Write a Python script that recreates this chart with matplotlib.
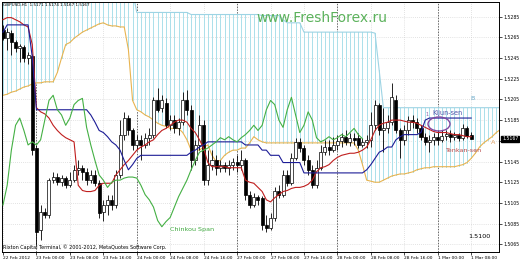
import matplotlib
matplotlib.use("Agg")
import matplotlib.pyplot as plt
import numpy as np
from matplotlib.patches import Ellipse
from matplotlib.transforms import blended_transform_factory

# ---------------- data (prices in 1/10000 units = pips) ----------------
SYMBOL_INFO = "GBPUSD,H1  1.5171 1.5174 1.5167 1.5167"
COPYRIGHT = "Rixton Capital Terminal, \u00a9 2001-2012, MetaQuotes Software Corp."
X_LABELS = ["22 Feb 2012", "23 Feb 00:00", "23 Feb 08:00", "23 Feb 16:00",
            "24 Feb 00:00", "24 Feb 08:00", "24 Feb 16:00", "27 Feb 00:00",
            "27 Feb 08:00", "27 Feb 16:00", "28 Feb 00:00", "28 Feb 08:00",
            "28 Feb 16:00", "1 Mar 00:00", "1 Mar 08:00"]
BARS_PER_LABEL = 8
DAY_START_BARS = [8, 32, 56, 80, 104]
Y_TICKS = [1.5285, 1.5265, 1.5245, 1.5225, 1.5205, 1.5185, 1.5165,
           1.5145, 1.5125, 1.5105, 1.5085, 1.5065]
LAST_PRICE = 1.5167

OPEN_PIPS = [15272, 15264, 15269, 15260, 15255, 15256, 15245, 15247, 15158, 15079,
             15096, 15093, 15127, 15130, 15125, 15129, 15122, 15127, 15137, 15139,
             15135, 15127, 15132, 15124, 15096, 15103, 15108, 15103, 15132, 15171,
             15187, 15175, 15161, 15166, 15161, 15168, 15171, 15204, 15197, 15202,
             15180, 15185, 15177, 15183, 15204, 15195, 15146, 15161, 15180, 15127,
             15142, 15146, 15139, 15142, 15139, 15142, 15145, 15142, 15146, 15113,
             15103, 15111, 15110, 15084, 15081, 15090, 15117, 15113, 15132, 15124,
             15148, 15164, 15158, 15146, 15137, 15122, 15139, 15154, 15159, 15156,
             15161, 15165, 15169, 15164, 15168, 15168, 15161, 15164, 15166, 15180,
             15200, 15175, 15177, 15183, 15204, 15175, 15166, 15175, 15185, 15183,
             15177, 15169, 15164, 15166, 15169, 15166, 15170, 15172, 15169, 15171,
             15168, 15177, 15171]
HIGH_PIPS = [15277, 15274, 15272, 15262, 15259, 15258, 15251, 15249, 15161, 15103,
             15100, 15129, 15135, 15134, 15132, 15131, 15135, 15142, 15146, 15142,
             15139, 15137, 15137, 15127, 15108, 15113, 15113, 15137, 15185, 15193,
             15190, 15177, 15171, 15171, 15173, 15177, 15207, 15216, 15209, 15206,
             15190, 15190, 15187, 15212, 15214, 15200, 15166, 15190, 15185, 15156,
             15156, 15151, 15146, 15145, 15146, 15148, 15151, 15156, 15148, 15117,
             15115, 15113, 15112, 15093, 15095, 15120, 15122, 15137, 15137, 15153,
             15168, 15168, 15161, 15151, 15142, 15146, 15161, 15166, 15166, 15169,
             15171, 15173, 15175, 15173, 15173, 15173, 15168, 15171, 15193, 15204,
             15202, 15197, 15190, 15221, 15209, 15177, 15180, 15189, 15190, 15187,
             15180, 15173, 15171, 15173, 15175, 15175, 15175, 15175, 15174, 15173,
             15181, 15179, 15174]
LOW_PIPS = [15262, 15253, 15248, 15251, 15241, 15241, 15239, 15151, 15064, 15069,
            15090, 15090, 15124, 15122, 15121, 15119, 15120, 15125, 15132, 15127,
            15122, 15124, 15121, 15090, 15088, 15093, 15098, 15100, 15129, 15166,
            15171, 15156, 15156, 15146, 15158, 15161, 15168, 15193, 15193, 15177,
            15175, 15173, 15171, 15180, 15190, 15137, 15142, 15156, 15122, 15122,
            15137, 15132, 15135, 15135, 15132, 15137, 15135, 15137, 15108, 15100,
            15101, 15103, 15079, 15077, 15079, 15088, 15110, 15111, 15121, 15122,
            15146, 15154, 15142, 15132, 15119, 15119, 15137, 15151, 15151, 15154,
            15156, 15159, 15161, 15160, 15161, 15158, 15159, 15158, 15159, 15175,
            15171, 15154, 15173, 15180, 15173, 15148, 15161, 15171, 15177, 15173,
            15166, 15161, 15154, 15161, 15161, 15164, 15166, 15164, 15166, 15165,
            15166, 15168, 15167]
CLOSE_PIPS = [15264, 15270, 15260, 15255, 15257, 15245, 15248, 15156, 15077, 15096,
              15093, 15127, 15130, 15125, 15129, 15122, 15127, 15137, 15139, 15135,
              15127, 15132, 15124, 15095, 15103, 15108, 15103, 15132, 15171, 15187,
              15175, 15161, 15166, 15161, 15168, 15171, 15204, 15195, 15204, 15180,
              15185, 15177, 15183, 15204, 15195, 15146, 15161, 15180, 15127, 15142,
              15146, 15139, 15142, 15139, 15142, 15145, 15142, 15146, 15113, 15103,
              15111, 15108, 15084, 15081, 15090, 15117, 15113, 15132, 15124, 15148,
              15164, 15158, 15146, 15137, 15122, 15139, 15154, 15159, 15156, 15161,
              15165, 15169, 15164, 15168, 15166, 15161, 15164, 15166, 15180, 15200,
              15175, 15177, 15183, 15207, 15175, 15166, 15175, 15185, 15183, 15177,
              15169, 15164, 15166, 15169, 15166, 15170, 15172, 15169, 15171, 15168,
              15177, 15170, 15167]

TENKAN_PIPS = [15282, 15284, 15284, 15282, 15280, 15277, 15275, 15258, 15197, 15193,
               15191, 15187, 15180, 15175, 15171, 15168, 15166, 15164, 15122, 15117,
               15116, 15116, 15117, 15122, 15124, 15124, 15124, 15132, 15137, 15142,
               15146, 15151, 15156, 15159, 15161, 15164, 15166, 15171, 15175, 15177,
               15180, 15183, 15185, 15185, 15183, 15177, 15173, 15166, 15158, 15144,
               15140, 15140, 15140, 15140, 15139, 15139, 15139, 15139, 15127, 15125,
               15124, 15120, 15116, 15108, 15106, 15110, 15113, 15116, 15117, 15119,
               15120, 15120, 15121, 15123, 15127, 15135, 15139, 15140, 15142, 15146,
               15149, 15151, 15152, 15153, 15153, 15154, 15156, 15159, 15166, 15175,
               15180, 15182, 15183, 15185, 15185, 15185, 15184, 15183, 15183, 15182,
               15180, 15178, 15176, 15174, 15173, 15173, 15173, 15172, 15171, 15171,
               15170, 15169, 15169]
KIJUN_PIPS = ([15270] + [15277] * 6 + [15246] + [15195] * 13 +
              [15190, 15183, 15175, 15173, 15169, 15164, 15161, 15156, 15146, 15137, 15142, 15148] +
              [15151] * 12 + [15154, 15156, 15159, 15161] + [15164] * 9 + [15161] * 4 +
              [15156] * 2 + [15151] * 3 + [15144] * 5 + [15134] * 15 +
              [15137, 15142, 15148, 15154, 15156, 15159, 15159, 15166, 15169] +
              [15171] * 4 + [15173, 15185] + [15187] * 11)
CHIKOU_PIPS = [15103, 15122, 15156, 15180, 15187, 15175, 15161, 15164, 15161, 15166,
               15185, 15204, 15209, 15195, 15190, 15180, 15187, 15200, 15204, 15206,
               15178, 15161, 15146, 15132, 15127, 15120, 15125, 15127, 15127, 15129,
               15130, 15130, 15129, 15122, 15113, 15108, 15101, 15088, 15082, 15087,
               15091, 15101, 15111, 15119, 15127, 15137, 15146, 15154, 15156, 15158,
               15161, 15164, 15168, 15166, 15169, 15166, 15164, 15168, 15171, 15175,
               15180, 15175, 15180, 15195, 15204, 15200, 15185, 15178, 15195, 15207,
               15190, 15173, 15180, 15193, 15185, 15168, 15164, 15166, 15169, 15166,
               15168, 15171, 15169, 15173, 15177, 15171, 15167]
SENKOU_A_PIPS = ([15209, 15210, 15212, 15213, 15215, 15217, 15218, 15220, 15221, 15221,
                  15222, 15222, 15222, 15231, 15245, 15258, 15260, 15264, 15267, 15270,
                  15272, 15274, 15276, 15278, 15279, 15277, 15276, 15276, 15275, 15275,
                  15253, 15204, 15195, 15193, 15190, 15188, 15185, 15182, 15180, 15179,
                  15177, 15177, 15177, 15173, 15166, 15156, 15156, 15156, 15159, 15161,
                  15151, 15145, 15146, 15151, 15154, 15156, 15156, 15158, 15158, 15163,
                  15169, 15166, 15164] + [15163] * 22 +
                 [15156, 15142, 15127, 15126, 15125, 15125, 15127, 15129, 15131, 15132,
                  15133, 15133, 15134, 15135, 15137, 15138, 15139, 15139] + [15140] * 6 +
                 [15141, 15142, 15144, 15148, 15153, 15159, 15163, 15166, 15169, 15173, 15176])
SENKOU_B_PIPS = ([15310] * 32 + [15289] * 13 + [15287] * 17 + [15286] * 5 + [15282] +
                 [15279] * 4 + [15270] * 17 + [15269, 15233] + [15197] * 29)

# ---------------- colours ----------------
C_TENKAN = "#c01e1e"
C_KIJUN = "#1c1c96"
C_CHIKOU = "#44b044"
C_SPAN_A = "#e8b450"
C_SPAN_B = "#9ed4e4"
C_CLOUD = "#ade0ea"

def px(v):
    return np.asarray(v, dtype=float) / 1e4

o, h, l, c = px(OPEN_PIPS), px(HIGH_PIPS), px(LOW_PIPS), px(CLOSE_PIPS)
n = len(c)
bars = np.arange(n)
span_a, span_b = px(SENKOU_A_PIPS), px(SENKOU_B_PIPS)
span_x = np.arange(len(span_a))

fig = plt.figure(figsize=(5.2, 2.6), dpi=100)
fig.patch.set_facecolor("white")
ax = fig.add_axes([2 / 520, 8 / 260, 497 / 520, 250 / 260])
ax.set_xlim(-0.24, 118.66)
ax.set_ylim(1.50576, 1.52991)

# grid + period separators
ax.set_axisbelow(True)
ax.grid(True, color="#c8c8c8", ls=(0, (1, 2)), lw=0.5)
for d in DAY_START_BARS:
    ax.axvline(d, color="#303030", ls=(0, (2, 2)), lw=0.5, zorder=1)

# cloud (histogram lines between span A and span B)
ax.vlines(span_x, np.minimum(span_a, span_b), np.maximum(span_a, span_b),
          colors=C_CLOUD, lw=0.72, zorder=1.5, antialiased=False)
ax.plot(span_x, span_a, color=C_SPAN_A, lw=0.8, zorder=2)
ax.plot(span_x, span_b, color=C_SPAN_B, lw=0.8, zorder=2)

# candles
ax.vlines(bars, l, h, colors="black", lw=0.6, zorder=3)
up = c >= o
ax.bar(bars[up], (c - o)[up], bottom=o[up], width=0.72, color="white",
       edgecolor="black", lw=0.5, zorder=3.5)
ax.bar(bars[~up], (c - o)[~up], bottom=o[~up], width=0.72, color="black",
       edgecolor="black", lw=0.5, zorder=3.5)

# indicator lines
ax.plot(bars, px(TENKAN_PIPS), color=C_TENKAN, lw=0.8, zorder=4)
ax.plot(bars, px(KIJUN_PIPS), color=C_KIJUN, lw=0.8, zorder=4)
ax.plot(np.arange(len(CHIKOU_PIPS)), px(CHIKOU_PIPS), color=C_CHIKOU, lw=0.8, zorder=4)

# axes styling
for s in ax.spines.values():
    s.set_color("black")
    s.set_linewidth(0.7)
ax.yaxis.tick_right()
ax.set_yticks(Y_TICKS)
# the tick label at the last price is hidden behind the price marker
ax.set_yticklabels(["" if abs(v - LAST_PRICE) < 0.0005 else f"{v:.4f}" for v in Y_TICKS])
ax.tick_params(axis="y", length=2, width=0.5, pad=1.2, labelsize=3.3, colors="black")
ax.set_xticks(np.arange(len(X_LABELS)) * BARS_PER_LABEL)
ax.set_xticklabels(X_LABELS, ha="left")
ax.tick_params(axis="x", length=2, width=0.5, pad=0.8, labelsize=3.2, colors="black")

# current price marker
tr = blended_transform_factory(ax.transAxes, ax.transData)
ax.text(1.006, LAST_PRICE, f"{LAST_PRICE:.4f}", transform=tr, fontsize=3.3,
        color="white", va="center", ha="left", clip_on=False, zorder=10,
        bbox=dict(boxstyle="square,pad=0.15", fc="black", ec="black"))

# annotations
fig.text(3 / 520, 1 - 5 / 260, SYMBOL_INFO, fontsize=3.0, va="center", ha="left",
         color="black")
fig.text(322 / 520, 1 - 18 / 260, "www.FreshForex.ru", fontsize=10, color="#5cb25c",
         ha="center", va="center")
fig.text(170 / 520, 1 - 229 / 260, "Chinkou Span", fontsize=4.6, color="#3ea83e",
         ha="left", va="center")
fig.text(425 / 520, 1 - 114 / 260, "1", fontsize=3.6, color="#9060a8", ha="left", va="center")
fig.text(432 / 520, 1 - 113 / 260, "Kijun-sen", fontsize=4.7, color="#5050a8",
         ha="left", va="center")
fig.text(445 / 520, 1 - 151 / 260, "Tenkan-sen", fontsize=4.6, color="#b84848",
         ha="left", va="center")
fig.text(473 / 520, 1 - 98 / 260, "B", fontsize=4.6, color="#68a8c8", ha="center", va="center")
fig.text(493 / 520, 1 - 143 / 260, "A", fontsize=4.6, color="#e0a060", ha="center", va="center")
fig.text(468 / 520, 1 - 237 / 260, "1.5100", fontsize=4.6, color="black", ha="left", va="center")
fig.text(3 / 520, 1 - 247 / 260, COPYRIGHT, fontsize=3.5, color="black", ha="left", va="center")
fig.patches.append(Ellipse((439 / 520, 1 - 124 / 260), 22 / 520, 14 / 260,
                           transform=fig.transFigure, fill=False, ec="#8048a0", lw=1.0))

fig.savefig("out.png", dpi=100)
